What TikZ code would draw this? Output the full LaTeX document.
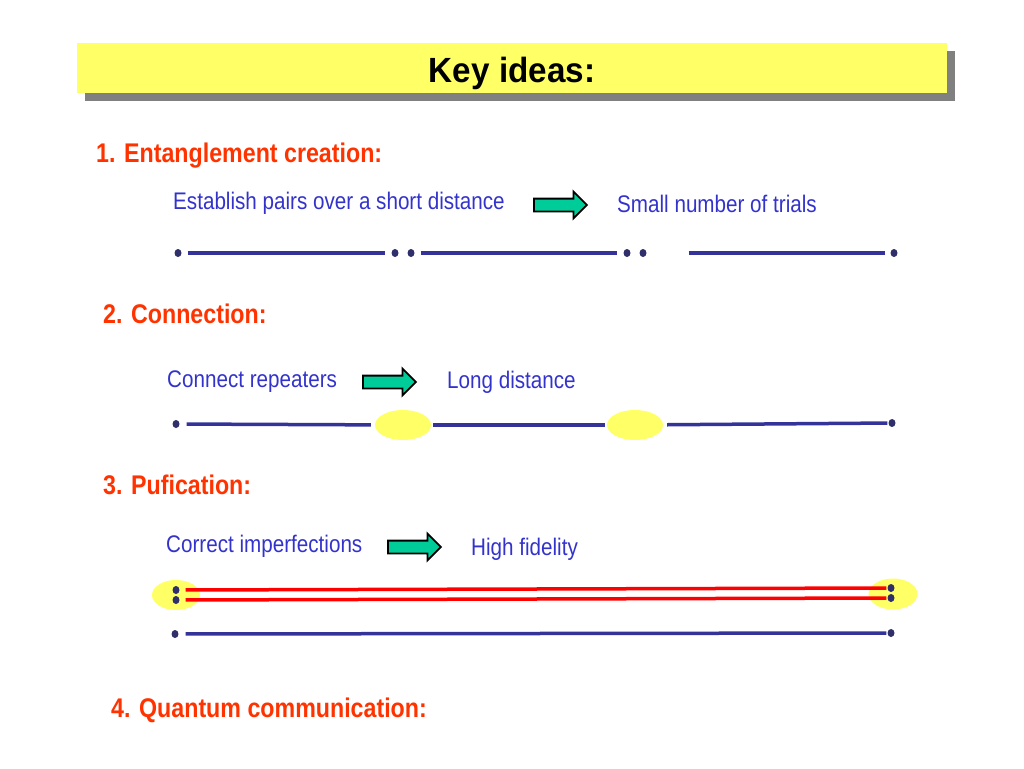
\documentclass[tikz,border=0pt]{standalone}
\usepackage{fontspec}
\setmainfont{Liberation Sans}[FakeStretch=0.86]
\newfontfamily\titlefont{Liberation Sans}[FakeStretch=0.95]
\usepackage{xcolor}
\definecolor{bannerYellow}{HTML}{FFFF66}
\definecolor{shadowGray}{HTML}{808080}
\definecolor{headRed}{HTML}{FF3300}
\definecolor{textBlue}{HTML}{3333CC}
\definecolor{lineBlue}{HTML}{333399}
\definecolor{dotBlue}{HTML}{2F2F6B}
\definecolor{arrowGreen}{HTML}{00CC99}
\definecolor{pairRed}{HTML}{FF0000}
\usepackage{tikz}
\usetikzlibrary{shapes,shapes.arrows,shadows,positioning}
\tikzset{
  bannerBox/.style={
    rectangle,
    fill=bannerYellow,
    minimum width=870pt,
    minimum height=50pt,
    drop shadow={shadow xshift=8pt, shadow yshift=-8pt, fill=shadowGray, opacity=1}
 },
  titleText/.style={
    anchor=base,
    inner sep=0pt,
    font=\titlefont\fontsize{35}{40}\selectfont\bfseries
 },
  headText/.style={
    anchor=base west,
    inner sep=0pt,
    text=headRed,
    font=\fontsize{27}{32}\selectfont\bfseries
 },
  bodyText/.style={
    anchor=base west,
    inner sep=0pt,
    text=textBlue,
    font=\fontsize{24}{28}\selectfont
 },
  stepArrow/.style={
    single arrow,
    anchor=west,
    draw=black,
    line width=1.8pt,
    fill=arrowGreen,
    inner sep=0pt,
    text height=5.5pt,
    text depth=5.5pt,
    minimum height=53pt,
    single arrow head extend=7pt
 },
  dotNode/.style={
    ellipse,
    fill=dotBlue,
    inner sep=0pt,
    minimum width=7pt,
    minimum height=8pt
 },
  glowSpot/.style={
    ellipse,
    fill=bannerYellow,
    inner sep=0pt
 },
  pairLine/.style={
    color=lineBlue,
    line width=3.5pt
 },
  purLine/.style={
    color=pairRed,
    line width=3.5pt
 }
}
\begin{document}
\begin{tikzpicture}[x=1pt,y=-1pt]
  \useasboundingbox (0,0) rectangle (1024,768);

  % title banner
  \node[bannerBox] (banner) at (512,68) {};
  \node[titleText] (title) at (512,82) {Key ideas:};

  % 1. entanglement creation
  \node[headText] (head1) at (96,162) {1. Entanglement creation:};
  \node[bodyText] (establish) at (173,209) {Establish pairs over a short distance};
  \node[stepArrow] (arrow1) at (533,205) {};
  \node[bodyText] (trials) at (617,212) {Small number of trials};

  \node[dotNode] (a1) at (178,253) {};
  \node[dotNode] (a2) at (395,253) {};
  \node[dotNode] (a3) at (411,253) {};
  \node[dotNode] (a4) at (627,253) {};
  \node[dotNode] (a5) at (643,253) {};
  \node[dotNode] (a6) at (894,253) {};
  \draw[pairLine, shorten <=6pt, shorten >=6pt] (a1) -- (a2);
  \draw[pairLine, shorten <=6pt, shorten >=6pt] (a3) -- (a4);
  \draw[pairLine, shorten <=42pt, shorten >=5pt] (a5) -- (a6);

  % 2. connection
  \node[headText] (head2) at (103,323) {2. Connection:};
  \node[bodyText] (connect) at (167,387) {Connect repeaters};
  \node[stepArrow] (arrow2) at (362,382) {};
  \node[bodyText] (long) at (447,388) {Long distance};

  \node[dotNode] (b1) at (176,424) {};
  \node[glowSpot, minimum width=56pt, minimum height=30pt] (swap1) at (403,425) {};
  \node[glowSpot, minimum width=56pt, minimum height=30pt] (swap2) at (635,425) {};
  \node[dotNode] (b2) at (892,423) {};
  \draw[pairLine, shorten <=7pt, shorten >=4pt] (b1) -- (swap1);
  \draw[pairLine, shorten <=2pt, shorten >=2pt] (swap1) -- (swap2);
  \draw[pairLine, shorten <=4pt, shorten >=1pt] (swap2) -- (b2);

  % 3. purification
  \node[headText] (head3) at (103,494) {3. Pufication:};
  \node[bodyText] (correct) at (166,552) {Correct imperfections};
  \node[stepArrow] (arrow3) at (387,547) {};
  \node[bodyText] (fidelity) at (471,555) {High fidelity};

  \node[glowSpot, minimum width=48pt, minimum height=30pt] (glowL) at (176,595) {};
  \node[glowSpot, minimum width=49pt, minimum height=31pt] (glowR) at (893,594) {};
  \node[dotNode] (c1) at (176,590) {};
  \node[dotNode] (c2) at (176,600) {};
  \node[dotNode] (c3) at (891,588) {};
  \node[dotNode] (c4) at (891,598) {};
  \draw[purLine, shorten <=6pt, shorten >=1pt] (c1) -- (c3);
  \draw[purLine, shorten <=6pt, shorten >=1pt] (c2) -- (c4);

  \node[dotNode] (d1) at (175,634) {};
  \node[dotNode] (d2) at (891,633) {};
  \draw[pairLine, shorten <=7pt, shorten >=1pt] (d1) -- (d2);

  % 4. quantum communication
  \node[headText] (head4) at (111,717) {4. Quantum communication:};
\end{tikzpicture}
\end{document}
